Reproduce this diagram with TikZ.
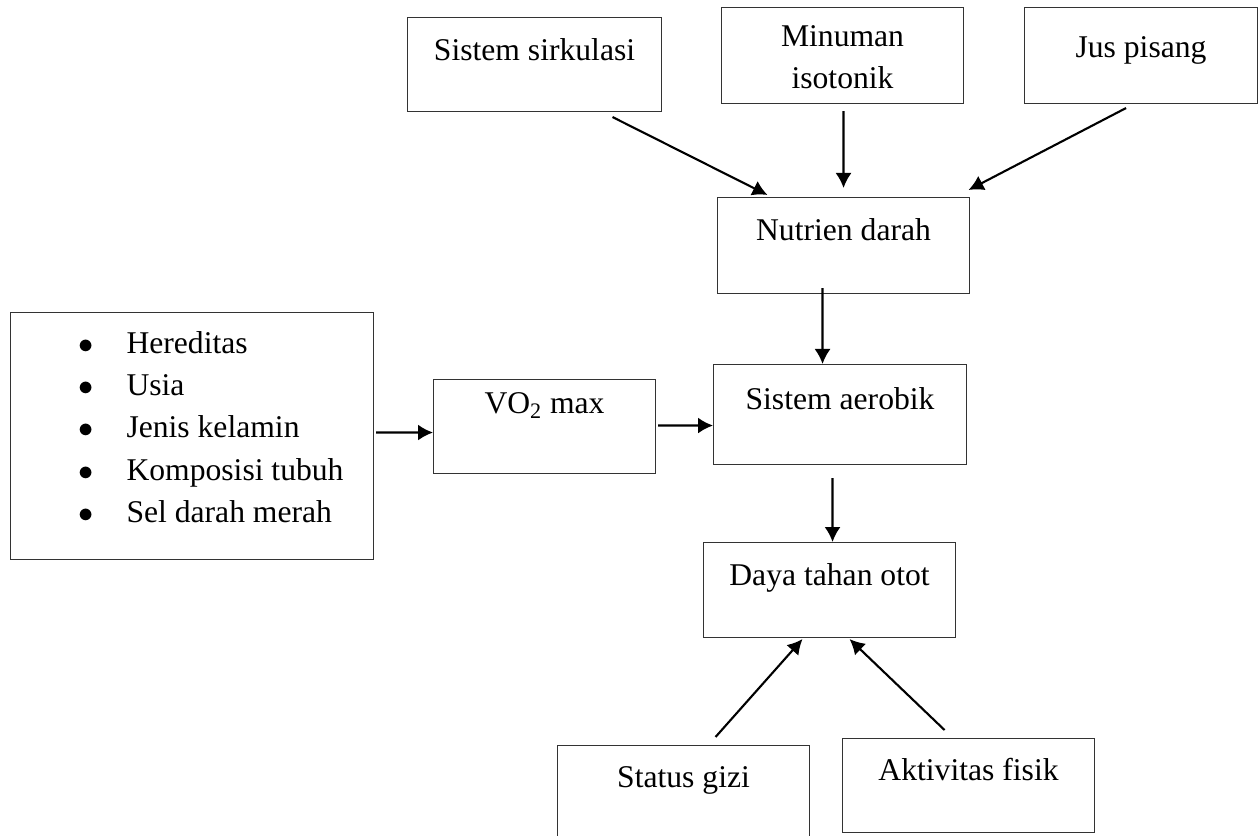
\documentclass[tikz,border=0pt]{standalone}
\usepackage{fontspec}
\setmainfont{Liberation Serif}
\usepackage{tikz}
\usetikzlibrary{positioning, arrows.meta, calc}

\begin{document}
\begin{tikzpicture}[
    box/.style={draw=black!80, line width=0.6pt, inner sep=0pt, anchor=north west, minimum width=5.04cm, align=center, font=\fontsize{18}{24}\selectfont},
    arrow/.style={-{Latex[length=3mm, width=3.2mm]}, line width=1.2pt}
]
\useasboundingbox (0,0) rectangle (25.2,-16.72);

% Top row
\node[box, minimum width=5.08cm, text height=0.86cm, text depth=1.02cm] (sirk) at (8.14,-0.34) {Sistem sirkulasi};
\node[box, minimum width=4.84cm, text height=0.78cm, text depth=1.14cm] (minum) at (14.42,-0.14) {\begin{tabular}[t]{@{}c@{}}Minuman\\isotonik\end{tabular}};
\node[box, minimum width=4.66cm, text height=1.00cm, text depth=0.92cm] (jus) at (20.48,-0.14) {Jus pisang};

% Middle column
\node[box, text height=0.86cm, text depth=1.06cm] (nutr) at (14.34,-3.94) {Nutrien darah};
\node[box, minimum width=5.06cm, text height=0.90cm, text depth=1.10cm] (aer) at (14.26,-7.28) {Sistem aerobik};
\node[box, text height=0.86cm, text depth=1.04cm] (daya) at (14.06,-10.84) {Daya tahan otot};

% Left side
\node[box, minimum width=7.26cm, text height=0.82cm, text depth=4.12cm] (faktor) at (0.2,-6.24) {%
  \begin{tabular}[t]{@{\hspace{1.36cm}}p{0.96cm}@{}p{4.94cm}@{}}
  $\bullet$ & Hereditas\\
  $\bullet$ & Usia\\
  $\bullet$ & Jenis kelamin\\
  $\bullet$ & Komposisi tubuh\\
  $\bullet$ & Sel darah merah
  \end{tabular}};
\node[box, minimum width=4.44cm, text height=0.68cm, text depth=1.20cm] (vo2) at (8.66,-7.58) {VO\textsubscript{2} max};

% Bottom row
\node[box, text height=0.84cm, text depth=1.02cm] (gizi) at (11.14,-14.9) {Status gizi};
\node[box, text height=0.84cm, text depth=1.04cm] (akt) at (16.84,-14.76) {Aktivitas fisik};

% Arrows
\draw[arrow] ([xshift=1.56cm, yshift=-0.1cm]sirk.south) -- ([xshift=-1.52cm, yshift=0.04cm]nutr.north);
\draw[arrow] ([xshift=0.02cm, yshift=-0.14cm]minum.south) -- ([yshift=0.18cm]nutr.north);
\draw[arrow] ([xshift=-0.3cm, yshift=-0.08cm]jus.south) -- ([xshift=2.5cm, yshift=0.14cm]nutr.north);
\draw[arrow] ([xshift=-0.42cm, yshift=0.12cm]nutr.south) -- ([xshift=-0.35cm]aer.north);
\draw[arrow] ([xshift=0.04cm, yshift=0.07cm]faktor.east) -- ([yshift=-0.12cm]vo2.west);
\draw[arrow] ([xshift=0.04cm, yshift=0.02cm]vo2.east) -- ([yshift=-0.22cm]aer.west);
\draw[arrow] ([xshift=-0.15cm, yshift=-0.26cm]aer.south) -- ([xshift=0.06cm]daya.north);
\draw[arrow] ([xshift=0.64cm, yshift=0.16cm]gizi.north) -- ([xshift=-0.54cm, yshift=-0.02cm]daya.south);
\draw[arrow] ([xshift=-0.48cm, yshift=0.16cm]akt.north) -- ([xshift=0.4cm, yshift=-0.02cm]daya.south);

\end{tikzpicture}
\end{document}
